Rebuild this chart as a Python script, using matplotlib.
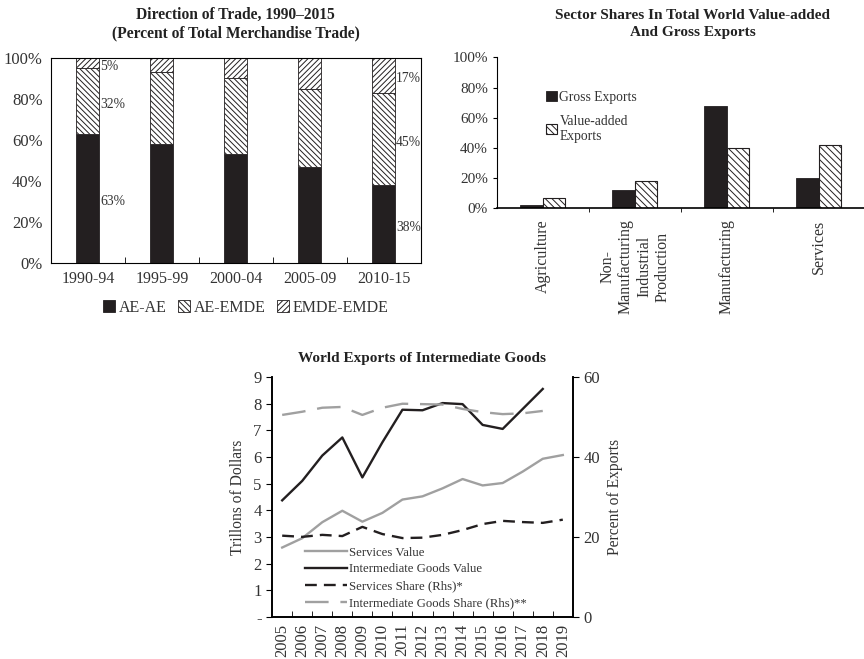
import numpy as np
import matplotlib.pyplot as plt

plt.rcParams['font.family'] = ['Liberation Serif', 'DejaVu Serif']
plt.rcParams['hatch.linewidth'] = 0.7

# Direction of trade
periods = ['1990-94', '1995-99', '2000-04', '2005-09', '2010-15']
ae_ae = [63, 58, 53, 47, 38]
ae_emde = [32, 35, 37, 38, 45]
emde_emde = [5, 7, 10, 15, 17]

# Sector shares
sectors = ['Agriculture', 'Non-\nManufacturing\nIndustrial\nProduction', 'Manufacturing', 'Services']
gross_exports = [2, 12, 68, 20]
va_exports = [7, 18, 40, 42]

# World exports of intermediate goods
years = [str(y) for y in range(2005, 2020)]
services_value = [2.6, 2.95, 3.55, 3.98, 3.57, 3.9, 4.4, 4.52, 4.82, 5.17, 4.93, 5.02, 5.45, 5.93, 6.07]
goods_value = [4.37, 5.1, 6.05, 6.73, 5.23, 6.55, 7.77, 7.75, 8.02, 7.98, 7.2, 7.05, 7.8, 8.55]
services_share = [20.3, 20.0, 20.5, 20.2, 22.5, 20.7, 19.7, 19.8, 20.5, 21.7, 23.2, 24.0, 23.7, 23.5, 24.3]
goods_share = [50.5, 51.3, 52.3, 52.5, 50.5, 52.3, 53.3, 53.2, 53.1, 52.0, 51.2, 50.7, 50.9, 51.5]

dark = '#231f20'
grey = '#a0a0a0'
txt = '#333333'

fig = plt.figure(figsize=(8.64, 6.59), dpi=100)

# ---- top left: stacked bars
ax1 = fig.add_axes([0.059, 0.601, 0.428, 0.311])
x = np.arange(len(periods))
w = 0.31
ax1.bar(x, ae_ae, w, color=dark, edgecolor=dark, linewidth=0.6, label='AE-AE')
ax1.bar(x, ae_emde, w, bottom=ae_ae, color='white', edgecolor=dark, hatch='\\\\\\\\\\\\',
        linewidth=0.6, label='AE-EMDE')
bot2 = np.array(ae_ae) + np.array(ae_emde)
ax1.bar(x, emde_emde, w, bottom=bot2, color='white', edgecolor=dark, hatch='//////',
        linewidth=0.6, label='EMDE-EMDE')
for i in [0, len(periods) - 1]:
    segs = [ae_ae[i], ae_emde[i], emde_emde[i]]
    base = 0
    for v in segs:
        ax1.text(x[i] + w / 2 + 0.01, base + v / 2 - 1.5, f'{v}%', fontsize=9.8,
                 ha='left', va='center', color=txt)
        base += v
ax1.set_xlim(-0.5, len(periods) - 0.5)
ax1.set_ylim(0, 100)
ax1.set_yticks(range(0, 101, 20))
ax1.set_yticklabels([f'{v}%' for v in range(0, 101, 20)])
ax1.set_xticks(x)
ax1.set_xticklabels(periods)
ax1.set_xticks(np.arange(0.5, len(periods) - 1, 1), minor=True)
ax1.tick_params(axis='x', which='major', length=0, labelsize=11.5, pad=6, labelcolor=txt)
ax1.tick_params(axis='x', which='minor', length=4, direction='in')
ax1.tick_params(axis='y', length=0, labelsize=12, pad=6, labelcolor=txt)
ax1.set_title('Direction of Trade, 1990\u20132015\n(Percent of Total Merchandise Trade)',
              fontsize=11.2, fontweight='bold', pad=15, color='#222222')
ax1.legend(loc='upper center', bbox_to_anchor=(0.527, -0.11), ncol=3, frameon=False,
           fontsize=11.5, handlelength=0.75, handleheight=0.75, handletextpad=0.2,
           columnspacing=0.75, labelcolor=txt)

# ---- top right: grouped bars
ax2 = fig.add_axes([0.575, 0.684, 0.426, 0.229])
xs = np.arange(len(sectors))
bw = 0.245
ax2.bar(xs - bw / 2, gross_exports, bw, color=dark, edgecolor=dark, linewidth=0.6,
        label='Gross Exports')
ax2.bar(xs + bw / 2, va_exports, bw, color='white', edgecolor=dark, hatch='\\\\\\\\\\',
        linewidth=0.8, label='Value-added\nExports')
ax2.set_xlim(-0.5, len(sectors) - 0.5)
ax2.set_ylim(0, 100)
ax2.set_yticks(range(0, 101, 20))
ax2.set_yticklabels([f'{v}%' for v in range(0, 101, 20)])
ax2.set_xticks(xs)
ax2.set_xticklabels(sectors, rotation=90, multialignment='center')
ax2.set_xticks(np.arange(0.5, len(sectors) - 1, 1), minor=True)
ax2.tick_params(axis='x', which='major', length=0, labelsize=11.5, pad=8, labelcolor=txt)
ax2.tick_params(axis='x', which='minor', length=3, direction='out')
ax2.tick_params(axis='y', length=3, direction='out', labelsize=11, labelcolor=txt)
for s in ['top', 'right']:
    ax2.spines[s].set_visible(False)
ax2.spines['bottom'].set_linewidth(1.2)
ax2.set_title('Sector Shares In Total World Value-added\nAnd Gross Exports',
              fontsize=11, fontweight='bold', pad=15, color='#222222', x=0.533,
              linespacing=1.45)
ax2.legend(loc='upper left', bbox_to_anchor=(0.1, 0.86), frameon=False, fontsize=9.8,
           handlelength=0.8, handleheight=0.8, handletextpad=0.2, labelspacing=0.8,
           labelcolor=txt)

# ---- bottom: lines on two axes
ax3 = fig.add_axes([0.315, 0.064, 0.348, 0.364])
xi = np.arange(len(years))
ax3.plot(xi, services_value, color=grey, lw=1.7, label='Services Value')
ax3.plot(xi[:len(goods_value)], goods_value, color=dark, lw=1.7,
         label='Intermediate Goods Value')
ax4 = ax3.twinx()
ax4.plot(xi, services_share, color=dark, lw=1.7, dashes=(5, 3),
         label='Services Share (Rhs)*')
ax4.plot(xi[:len(goods_share)], goods_share, color=grey, lw=1.7, dashes=(10, 5),
         label='Intermediate Goods Share (Rhs)**')
ax3.set_xlim(-0.5, len(years) - 0.5)
ax3.set_ylim(0, 9)
ax4.set_ylim(0, 60)
ax3.set_yticks(range(0, 10))
ax3.set_yticklabels(['-'] + [str(v) for v in range(1, 10)])
ax4.set_yticks([0, 20, 40, 60])
ax3.set_xticks(xi)
ax3.set_xticklabels(years, rotation=90)
ax3.set_xticks(np.arange(0.5, len(years) - 1, 1), minor=True)
ax3.tick_params(axis='x', which='major', length=0, labelsize=12, pad=5, labelcolor=txt)
ax3.tick_params(axis='x', which='minor', length=4, direction='in')
ax3.tick_params(axis='y', length=4, direction='out', labelsize=12, labelcolor=txt)
ax4.tick_params(axis='y', length=4, direction='out', labelsize=12, labelcolor=txt)
for a in (ax3, ax4):
    a.spines['top'].set_visible(False)
    for s in ['left', 'right', 'bottom']:
        a.spines[s].set_linewidth(1.2)
ax3.set_ylabel('Trillons of Dollars', fontsize=11.2, color=txt, labelpad=5)
ax4.set_ylabel('Percent of Exports', fontsize=11.2, color=txt, labelpad=5)
ax3.set_title('World Exports of Intermediate Goods', fontsize=11, fontweight='bold',
              pad=11, color='#222222')
h1, l1 = ax3.get_legend_handles_labels()
h2, l2 = ax4.get_legend_handles_labels()
ax4.legend(h1 + h2, l1 + l2, loc='lower left', bbox_to_anchor=(0.08, -0.005), frameon=False,
           fontsize=9.2, handlelength=3.3, handletextpad=0.1, labelspacing=0.38,
           borderaxespad=0.3, labelcolor=txt)

fig.savefig('out.png', dpi=100)
